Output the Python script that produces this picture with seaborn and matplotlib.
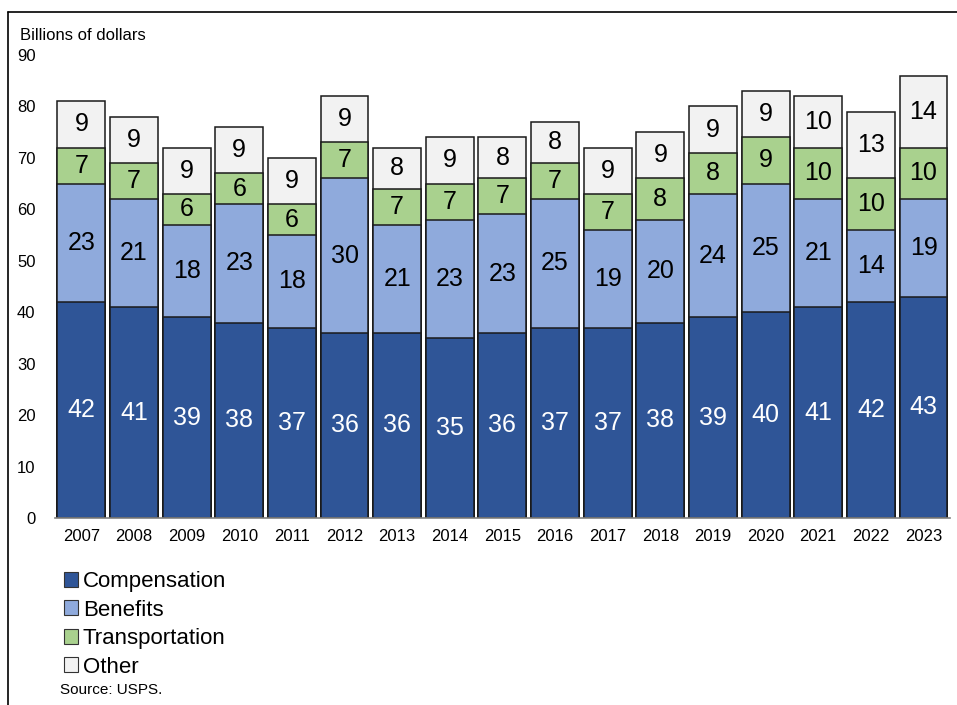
import matplotlib
matplotlib.use("Agg")
import matplotlib.pyplot as plt
from matplotlib.lines import Line2D
from matplotlib.patches import Patch
import numpy as np
import pandas as pd
import seaborn as sns

years = [str(y) for y in range(2007, 2024)]
compensation = [42, 41, 39, 38, 37, 36, 36, 35, 36, 37, 37, 38, 39, 40, 41, 42, 43]
benefits = [23, 21, 18, 23, 18, 30, 21, 23, 23, 25, 19, 20, 24, 25, 21, 14, 19]
transportation = [7, 7, 6, 6, 6, 7, 7, 7, 7, 7, 7, 8, 8, 9, 10, 10, 10]
other = [9, 9, 9, 9, 9, 9, 8, 9, 8, 8, 9, 9, 9, 9, 10, 13, 14]

series_names = ["Compensation", "Benefits", "Transportation", "Other"]
series_values = [compensation, benefits, transportation, other]
colors = ["#2F5597", "#8FAADC", "#A9D18E", "#F2F2F2"]
label_colors = ["white", "black", "black", "black"]

sns.set_theme(style="white")
plt.rcParams["font.family"] = ["Liberation Sans", "DejaVu Sans"]
plt.rcParams["text.color"] = "black"

fig = plt.figure(figsize=(9.57, 7.05), dpi=100)
ax = fig.add_axes([0.0575, 0.2652, 0.935, 0.6568])

df = pd.DataFrame({"year": years})
cum = np.zeros(len(years))
cums = []
for vals in series_values:
    cum = cum + np.array(vals)
    cums.append(cum.copy())

# Stacked bars: draw cumulative totals from the top layer down
for k in range(len(series_values) - 1, -1, -1):
    df["total"] = cums[k]
    sns.barplot(data=df, x="year", y="total", color=colors[k], width=0.91,
                edgecolor="#1a1a1a", linewidth=1.1, saturation=1, ax=ax, errorbar=None)

# Segment value labels
for k, vals in enumerate(series_values):
    bottoms = cums[k] - np.array(vals)
    for i, v in enumerate(vals):
        ax.text(i, bottoms[i] + v / 2, f"{v}", ha="center", va="center",
                fontsize=18, color=label_colors[k])

ax.set_ylim(0, 90)
ax.set_xlim(-0.5, len(years) - 0.5)
ax.set_yticks(range(0, 91, 10))
ax.set_xlabel("")
ax.set_ylabel("")
ax.tick_params(axis="both", length=0, labelsize=12, colors="black")
ax.tick_params(axis="y", pad=14)
ax.tick_params(axis="x", pad=8)
for side in ["top", "right", "left"]:
    ax.spines[side].set_visible(False)
ax.spines["bottom"].set_color("#808080")
ax.spines["bottom"].set_linewidth(1.2)

fig.text(20 / 957, 1 - 35 / 705, "Billions of dollars", fontsize=12,
         ha="left", va="center", color="black")

handles = [Patch(facecolor=c, edgecolor="#333333", linewidth=0.8) for c in colors]
fig.legend(handles, series_names, loc="upper left",
           bbox_to_anchor=(64 / 957, 1 - 571 / 705), frameon=False,
           fontsize=16, handlelength=0.65, handleheight=0.65,
           handletextpad=0.2, labelspacing=0.34, borderpad=0, borderaxespad=0,
           labelcolor="black")

fig.text(60 / 957, 1 - 690 / 705, "Source: USPS.", fontsize=11,
         ha="left", va="center", color="black")

# Frame lines along the top and left edge
fig.add_artist(Line2D([8 / 957, 1.0], [1 - 12 / 705, 1 - 12 / 705],
                      transform=fig.transFigure, color="black", linewidth=1.2))
fig.add_artist(Line2D([8 / 957, 8 / 957], [0, 1 - 12 / 705],
                      transform=fig.transFigure, color="black", linewidth=1.2))

fig.savefig("out.png", dpi=100, facecolor="white")
